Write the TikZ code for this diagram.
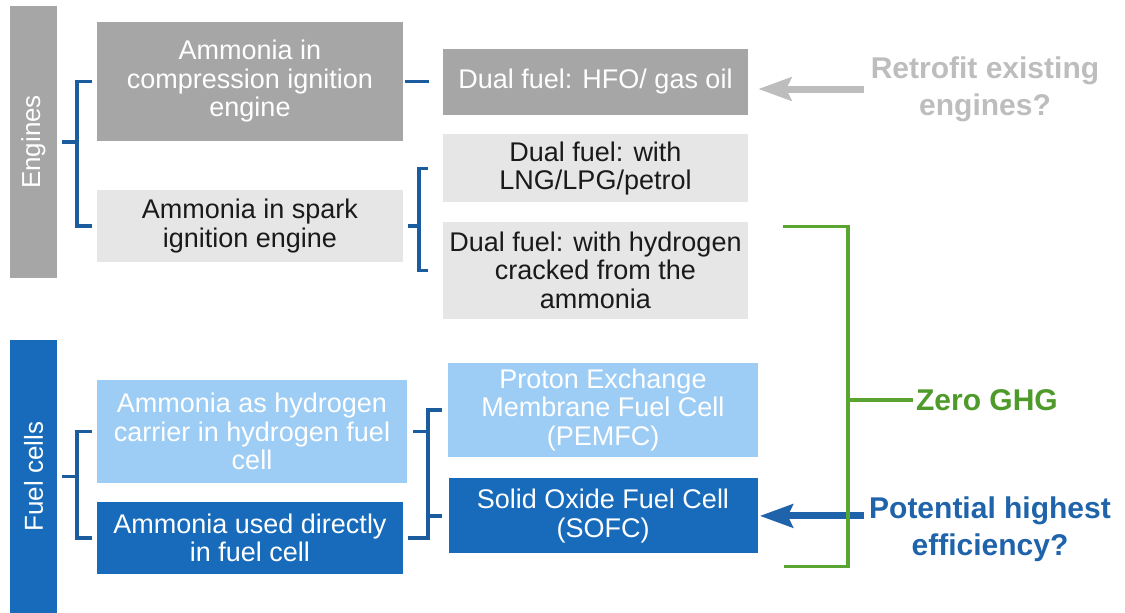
\documentclass[tikz,border=0pt]{standalone}
\usepackage{graphicx}
\usepackage{fontspec}
\setmainfont{Liberation Sans}
\usetikzlibrary{positioning}
\usetikzlibrary{arrows.meta}

\definecolor{boxgray}{HTML}{A6A6A6}
\definecolor{palegray}{HTML}{E6E6E6}
\definecolor{paleblue}{HTML}{9DCDF5}
\definecolor{deepblue}{HTML}{176BBA}
\definecolor{linkblue}{HTML}{1B5C9E}
\definecolor{ghggreen}{HTML}{5AA531}
\definecolor{ghgtext}{HTML}{4E9A2A}
\definecolor{retrogray}{HTML}{BDBDBD}
\definecolor{effblue}{HTML}{1F63AA}
\definecolor{inkblack}{HTML}{1A1A1A}

\begin{document}
\begin{tikzpicture}[
    x=1pt, y=-1pt,
    node distance=19pt and 40pt,
    bar/.style={minimum width=47pt, inner sep=0pt, text=white, font=\fontsize{26}{28}\selectfont},
    box/.style={minimum width=306pt, inner sep=0pt, align=center, text=inkblack, font=\fontsize{27}{28.5}\selectfont},
    note/.style={align=center, inner sep=0pt, font=\bfseries\fontsize{30}{37}\selectfont},
    brk/.style={draw=linkblue, line width=3.5pt},
    ghg/.style={draw=ghggreen, line width=3.5pt},
    pointer/.style={line width=7pt, -{Stealth[length=33pt,width=23pt,inset=5pt]}}
    ]

    \useasboundingbox (0,0) rectangle (1125,613);

    \node[bar, fill=boxgray, minimum height=272pt] (eng) at (33.5,142) {\rotatebox{90}{Engines}};
    \node[bar, fill=deepblue, minimum height=273pt] (fc) at (33.5,476.5) {\rotatebox{90}{Fuel cells}};

    \node[box, fill=boxgray, text=white, minimum height=119pt] (cie) at (250,81.5) {Ammonia in\\compression ignition\\engine};
    \node[box, fill=palegray, minimum height=72pt] (sie) at (250,226) {Ammonia in spark\\ignition engine};
    \node[box, fill=boxgray, text=white, minimum width=305pt, minimum height=66pt] (hfo) at (595.5,82) {Dual fuel: HFO/ gas oil};
    \node[box, fill=palegray, minimum width=305pt, minimum height=68pt, below=of hfo] (lng) {Dual fuel: with\\LNG/LPG/petrol};
    \node[box, fill=palegray, minimum width=305pt, minimum height=97pt, below=of lng] (crk) {Dual fuel: with hydrogen\\cracked from the\\ammonia};

    \node[box, fill=paleblue, text=white, minimum width=310pt, minimum height=103pt] (carrier) at (252,431.5) {Ammonia as hydrogen\\carrier in hydrogen fuel\\cell};
    \node[box, fill=deepblue, text=white, minimum height=72pt] (direct) at (250,538) {Ammonia used directly\\in fuel cell};
    \node[box, fill=paleblue, text=white, minimum width=310pt, minimum height=94pt] (pemfc) at (603,410) {Proton Exchange\\Membrane Fuel Cell\\(PEMFC)};
    \node[box, fill=deepblue, text=white, minimum width=309pt, minimum height=75pt, below=21pt of pemfc] (sofc) {Solid Oxide Fuel Cell\\(SOFC)};

    \node[note, text=retrogray] (retro) at (985,89) {Retrofit existing\\engines?};
    \node[note, text=ghgtext] (zero) at (987,400) {Zero GHG};
    \node[note, text=effblue] (eff) at (990,529) {Potential highest\\efficiency?};

    % engines
    \draw[brk] ([xshift=5pt]eng.east) -- ++(15pt,0);
    \draw[brk] ([xshift=-5pt]cie.west) -| ([xshift=-20pt]sie.west) -- ([xshift=-5pt]sie.west);
    \draw[brk, line cap=rect] ([xshift=4pt]cie.east) -- ([xshift=-16pt]hfo.west |- cie.east);
    \draw[brk] ([xshift=5pt]sie.east) -- ++(11pt,0);
    \draw[brk] ([xshift=-15pt]lng.west) -| ([xshift=-24pt]crk.west) -- ([xshift=-15pt]crk.west);

    % fuel cells
    \draw[brk] ([xshift=5pt]fc.east) -- ++(15pt,0);
    \draw[brk] ([xshift=-5pt]carrier.west) -| ([xshift=-20pt]direct.west) -- ([xshift=-5pt]direct.west);
    \draw[brk] ([xshift=6pt]carrier.east) -- ++(15pt,0);
    \draw[brk] ([xshift=-6pt]pemfc.west) -| ([xshift=25pt]direct.east) -- ([xshift=5pt]direct.east);
    \draw[brk] ([xshift=-6pt]sofc.west) -- ++(-14pt,0);

    \draw[pointer, retrogray, shorten <=7pt, shorten >=10pt] (retro.west) -- (retro.west -| hfo.east);
    \draw[pointer, effblue, shorten <=5pt, shorten >=2pt] (sofc.east -| eff.west) -- (sofc.east);

    \coordinate (gtop) at ([shift={(35pt,-5pt)}]crk.north east);
    \coordinate (gbot) at ([shift={(26pt,-13pt)}]sofc.south east);
    \coordinate (gmid) at ([xshift=65pt]gtop);
    \draw[ghg] (gtop) -- (gmid) |- (gbot);
    \draw[ghg, shorten <=3pt] (zero.west) -- (zero.west -| gmid);

  \end{tikzpicture}
\end{document}
